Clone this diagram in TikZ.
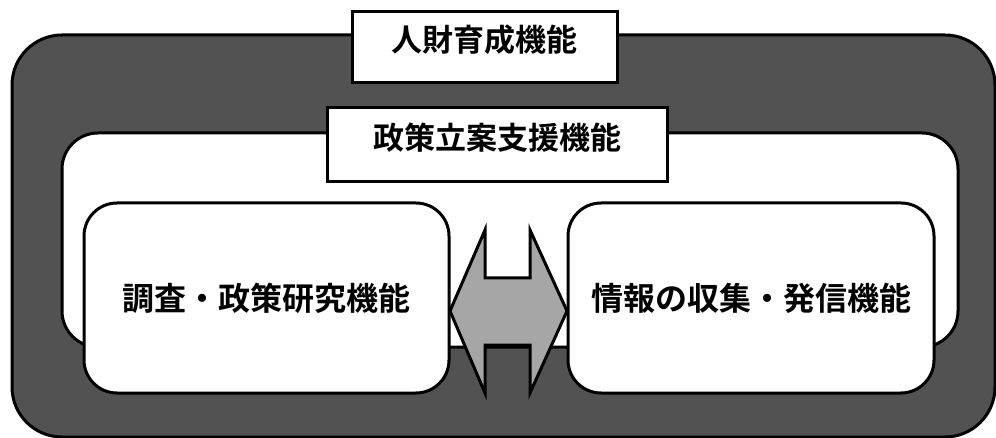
\documentclass[tikz,border=0pt]{standalone}
\usepackage{fontspec}
\newfontfamily\jp{Noto Sans CJK JP}[BoldFont=* Bold]
\usetikzlibrary{positioning}

\begin{document}
\begin{tikzpicture}[x=1pt, y=-1pt,
    band/.style={draw, line width=3pt, fill=black!68, rounded corners=50pt},
    panel/.style={draw, line width=3pt, fill=white, rounded corners=36pt},
    labelbox/.style={draw, line width=3pt, fill=white, inner sep=0pt,
      font=\jp\bfseries\fontsize{31}{31}\selectfont, text height=27pt, text depth=18pt},
    funcbox/.style={draw, line width=3pt, fill=white, rounded corners=33pt, inner sep=0pt,
      font=\jp\bfseries\fontsize{32}{32}\selectfont},
    link/.style={draw, line width=3pt, fill=black!35, line join=miter}]
      \useasboundingbox (0,0) rectangle (996,438);

      \node[band, minimum width=983pt, minimum height=402pt] (outer) at (503.5,236) {};
      \node[panel, minimum width=896pt, minimum height=214pt] (inner) at (510,240) {};

      \node[labelbox, minimum width=265pt, minimum height=71pt] (jinzai) at (484.5,47.5) {人財育成機能};
      \node[labelbox, minimum width=340pt, minimum height=74pt] (seisaku) at (497,145) {政策立案支援機能};

      \node[funcbox, minimum width=365pt, minimum height=190pt] (chosa) at (266.5,298) {調査・政策研究機能};
      \node[funcbox, minimum width=366pt, minimum height=190pt] (joho) at (751,298) {情報の収集・発信機能};

      \draw[link] (450,311) -- (485,230) -- (485,278) -- (530,278) -- (530,230) -- (567,311)
        -- (530,393) -- (530,345) -- (485,345) -- (485,393) -- cycle;

    \end{tikzpicture}
\end{document}
